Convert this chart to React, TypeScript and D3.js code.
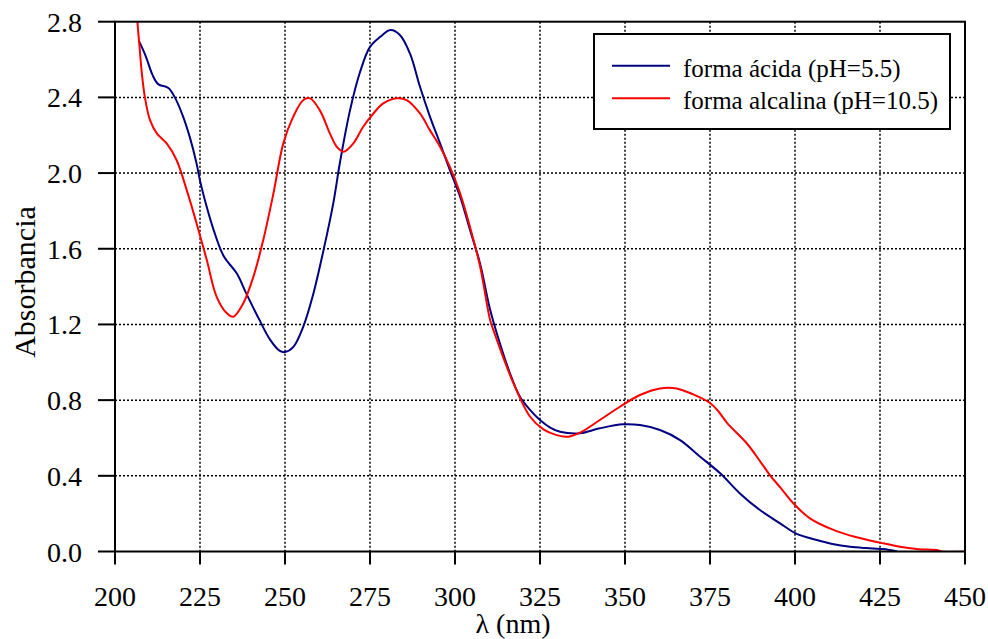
import React from "react";
import * as d3 from "d3";

const xTicks = [200, 225, 250, 275, 300, 325, 350, 375, 400, 425, 450];
const yTicks = [0.0, 0.4, 0.8, 1.2, 1.6, 2.0, 2.4, 2.8];

const acidWl = [207, 209, 211, 212.7, 215.7, 217.6, 220, 222, 224, 225, 227, 229, 232, 235.8, 238.7, 242.6, 245.6, 248.5, 250, 252.4, 255.4, 258.3, 261.3, 264.2, 266.2, 269.1, 272, 275, 278, 281, 283.8, 286.8, 289.7, 292.6, 295.6, 298.5, 301.5, 304.4, 307.4, 310.3, 313.2, 316, 319.1, 322, 325, 328, 330.9, 336.8, 342.6, 349.5, 354.4, 360.3, 366.2, 372.1, 378, 383.8, 389.7, 395.6, 400.2, 406.4, 411, 416.2, 421, 426, 430];
const acidAbs = [2.70, 2.62, 2.52, 2.47, 2.45, 2.40, 2.30, 2.19, 2.05, 1.96, 1.82, 1.70, 1.56, 1.47, 1.36, 1.22, 1.12, 1.06, 1.054, 1.08, 1.19, 1.36, 1.59, 1.84, 2.06, 2.33, 2.53, 2.667, 2.72, 2.756, 2.73, 2.63, 2.456, 2.30, 2.157, 2.016, 1.875, 1.70, 1.52, 1.28, 1.10, 0.95, 0.818, 0.75, 0.695, 0.655, 0.633, 0.625, 0.651, 0.672, 0.668, 0.642, 0.589, 0.501, 0.413, 0.307, 0.219, 0.149, 0.096, 0.061, 0.04, 0.025, 0.018, 0.013, 0.0];

const alkWl = [206.2, 206.6, 207.3, 207.8, 208.8, 210.3, 212.3, 215.2, 218.1, 221.1, 224, 227, 229.9, 232.9, 234.8, 237.7, 240.7, 243.6, 246.6, 249.5, 252.4, 255.4, 257.4, 260.3, 263.2, 265.2, 267.2, 270.1, 273, 276, 278.9, 282.9, 285.8, 289.7, 292.6, 295.6, 298.5, 301.5, 304.4, 307.4, 310.3, 311.3, 317.2, 322.1, 326, 329.9, 333.3, 336.8, 342.6, 348.5, 354.4, 360.3, 365.2, 370.1, 375, 377.5, 380, 385.8, 390, 392.6, 395.6, 399.5, 404.4, 411.3, 418.1, 425, 430.9, 435.8, 442.2, 443, 450];
const alkAbs = [2.95, 2.80, 2.65, 2.544, 2.40, 2.28, 2.21, 2.157, 2.069, 1.91, 1.734, 1.54, 1.346, 1.259, 1.241, 1.311, 1.452, 1.646, 1.893, 2.157, 2.297, 2.386, 2.395, 2.33, 2.21, 2.14, 2.113, 2.157, 2.245, 2.315, 2.368, 2.395, 2.386, 2.315, 2.227, 2.139, 2.033, 1.893, 1.716, 1.505, 1.225, 1.17, 0.889, 0.712, 0.645, 0.615, 0.607, 0.628, 0.695, 0.765, 0.827, 0.862, 0.862, 0.83, 0.785, 0.74, 0.68, 0.572, 0.47, 0.404, 0.34, 0.255, 0.175, 0.114, 0.075, 0.047, 0.025, 0.013, 0.006, 0.0, 0.0];

const seriesLabels = ["forma ácida (pH=5.5)", "forma alcalina (pH=10.5)"];
const seriesColors = ["#000080", "#ff0000"];

const W = 988, H = 639;
const L = 115, R = 965, T = 21.7, B = 551.5;
const FONT = "'Liberation Serif', 'Times New Roman', serif";

export default function App() {
  const x = d3.scaleLinear().domain([200, 450]).range([L, R]);
  const y = d3.scaleLinear().domain([0, 2.8]).range([B, T]);
  const line = d3.line<[number, number]>().x(d => x(d[0])).y(d => y(d[1])).curve(d3.curveCatmullRom.alpha(0.5));
  const acid = acidWl.map((w, i) => [w, acidAbs[i]] as [number, number]);
  const alk = alkWl.map((w, i) => [w, alkAbs[i]] as [number, number]);

  return (
    <svg width={W} height={H} style={{ position: "absolute", left: 0, top: 0, background: "#fff" }} fontFamily={FONT}>
      <defs>
        <clipPath id="plot">
          <rect x={L} y={T} width={R - L} height={B - T} />
        </clipPath>
      </defs>
      {xTicks.slice(1, -1).map(t => (
        <line key={"gx" + t} x1={x(t)} x2={x(t)} y1={T} y2={B} stroke="#000" strokeWidth={1.5} strokeDasharray="2,2" />
      ))}
      {yTicks.slice(1, -1).map(t => (
        <line key={"gy" + t} x1={L} x2={R} y1={y(t)} y2={y(t)} stroke="#000" strokeWidth={1.5} strokeDasharray="2,2" />
      ))}
      <g clipPath="url(#plot)">
        <path d={line(acid) || ""} fill="none" stroke={seriesColors[0]} strokeWidth={2} />
        <path d={line(alk) || ""} fill="none" stroke={seriesColors[1]} strokeWidth={2} />
      </g>
      <rect x={L} y={T} width={R - L} height={B - T} fill="none" stroke="#000" strokeWidth={2} />
      {yTicks.map(t => (
        <g key={"ty" + t}>
          <line x1={L - 17} x2={L} y1={y(t)} y2={y(t)} stroke="#000" strokeWidth={2} />
          <text x={82} y={y(t) + 10} textAnchor="end" fontSize={28}>{t.toFixed(1)}</text>
        </g>
      ))}
      {xTicks.map(t => (
        <g key={"tx" + t}>
          <line x1={x(t)} x2={x(t)} y1={B} y2={B + 13} stroke="#000" strokeWidth={2} />
          <text x={x(t)} y={606} textAnchor="middle" fontSize={28}>{t}</text>
        </g>
      ))}
      <text x={513} y={633} textAnchor="middle" fontSize={28}>λ (nm)</text>
      <text transform="translate(35,282) rotate(-90)" textAnchor="middle" fontSize={30}>Absorbancia</text>
      <rect x={594} y={34} width={356} height={95} fill="#fff" stroke="#000" strokeWidth={2} />
      {seriesLabels.map((s, i) => (
        <g key={s}>
          <line x1={612} x2={670} y1={65.7 + i * 32.6} y2={65.7 + i * 32.6} stroke={seriesColors[i]} strokeWidth={2} />
          <text x={683} y={76.5 + i * 32.6} fontSize={25}>{s}</text>
        </g>
      ))}
    </svg>
  );
}
